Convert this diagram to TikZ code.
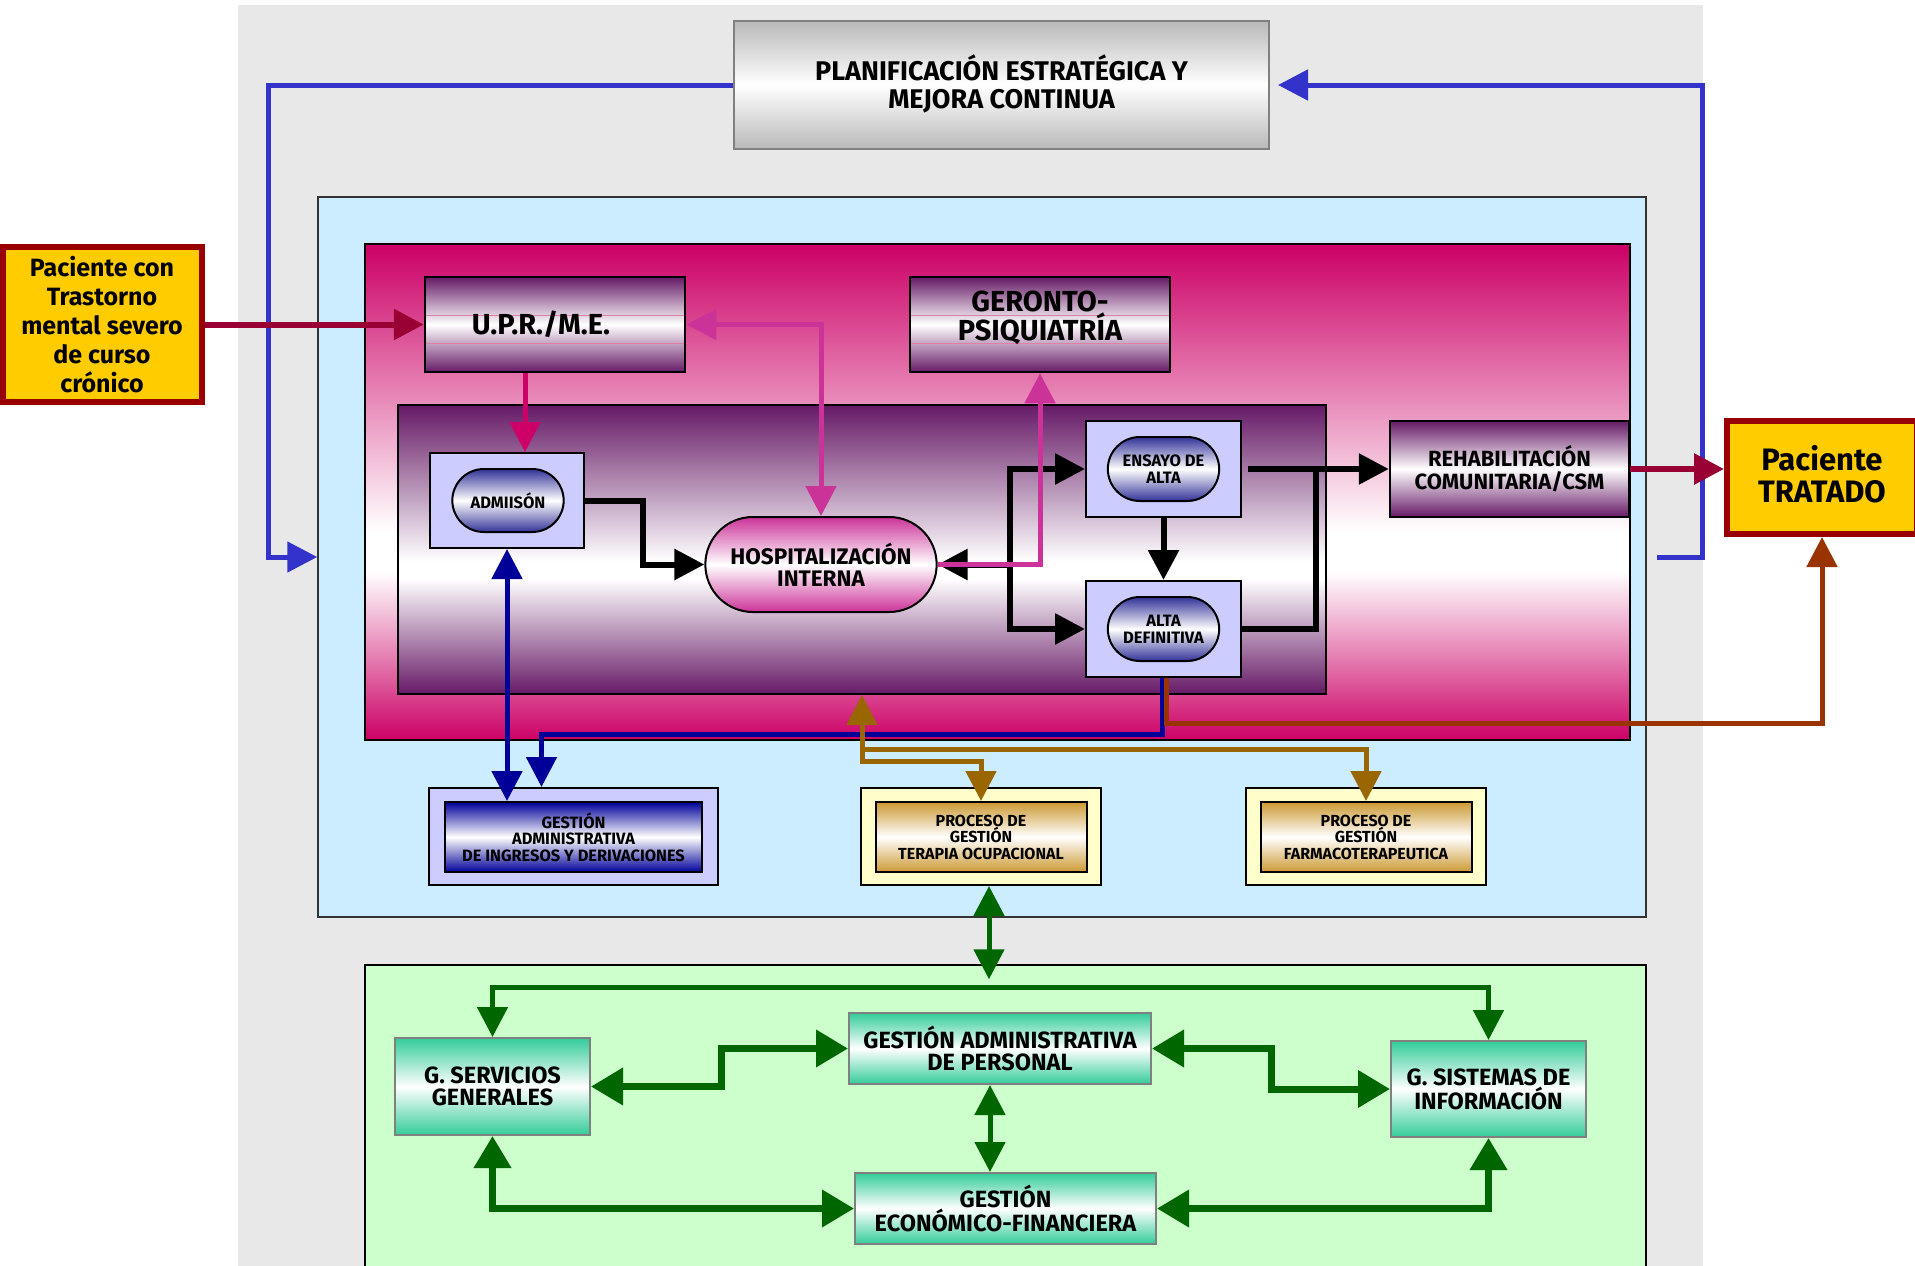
\documentclass[tikz,border=0pt]{standalone}
\usepackage{fontspec}
\setmainfont{Fira Sans}
\usetikzlibrary{arrows.meta,shapes.misc,calc}

\definecolor{fondogris}{HTML}{E8E8E8}
\definecolor{celeste}{HTML}{CCECFF}
\definecolor{carmin}{HTML}{CC0066}
\definecolor{purpura}{RGB}{102,26,102}
\definecolor{rosa}{HTML}{CC3399}
\definecolor{granate}{HTML}{990033}
\definecolor{teja}{HTML}{993300}
\definecolor{azul}{HTML}{3333CC}
\definecolor{marino}{HTML}{000099}
\definecolor{oro}{HTML}{996600}
\definecolor{verde}{HTML}{006600}
\definecolor{amarillo}{HTML}{FFCC00}
\definecolor{rojo}{HTML}{990000}
\definecolor{lila}{HTML}{CCCCFF}
\definecolor{azulpildora}{HTML}{333399}
\definecolor{dorado}{HTML}{CC9933}
\definecolor{crema}{HTML}{FFFFCC}
\definecolor{turquesa}{HTML}{33CC99}
\definecolor{menta}{HTML}{CCFFCC}
\definecolor{rosalinea}{HTML}{E07FA6}

\pgfdeclareverticalshading{fondocarmin}{100bp}{color(0bp)=(carmin); color(25bp)=(carmin); color(42bp)=(white); color(46bp)=(white); color(75bp)=(carmin); color(100bp)=(carmin)}
\pgfdeclareverticalshading{fondopurpura}{100bp}{color(0bp)=(purpura); color(25bp)=(purpura); color(45bp)=(white); color(48bp)=(white); color(75bp)=(purpura); color(100bp)=(purpura)}

\tikzset{
  caja/.style={draw, line width=2.5pt, inner sep=2pt, align=center},
  morada/.style={caja, top color=purpura, bottom color=purpura, middle color=white},
  rayas/.style={path picture={
    \foreach \f in {0.4,0.7}
      \draw[rosalinea, line width=1pt] ($(path picture bounding box.north west)!\f!(path picture bounding box.south west)$) -- ($(path picture bounding box.north east)!\f!(path picture bounding box.south east)$);}},
  marco/.style={draw, line width=2pt, fill=lila},
  pildora/.style={rounded rectangle, draw, line width=2pt, align=center, top color=azulpildora, bottom color=azulpildora, middle color=white, font=\bfseries\fontsize{16.5}{17}\selectfont},
  paciente/.style={draw=rojo, line width=6pt, fill=amarillo, align=center},
  verdecaja/.style={caja, draw=gray, line width=2pt, top color=turquesa, bottom color=turquesa, middle color=white, font=\bfseries\fontsize{23.5}{22}\selectfont},
  negra/.style={line width=6pt},
  flecha/.style={line width=5pt},
  gruesa/.style={line width=7pt, >={Triangle[length=32pt,width=36pt]}}
}

\begin{document}
\begin{tikzpicture}[x=1pt, y=-1pt, >={Triangle[length=30pt,width=30pt]}]
\useasboundingbox (0,0) rectangle (1915,1266);
\node[fill=fondogris, inner sep=0, minimum width=1465pt, minimum height=1270pt] (fondo) at (970.5,640) {};
\node[draw=black!80, line width=1.5pt, fill=celeste, minimum width=1328pt, minimum height=720pt] (asist) at (982,557) {};
\node[draw, line width=2pt, shade, shading=fondocarmin, minimum width=1265pt, minimum height=496pt] (hosparea) at (997.5,492) {};
\node[draw, line width=2pt, shade, shading=fondopurpura, minimum width=928pt, minimum height=289pt] (unidad) at (862,549.5) {};
\node[draw, line width=1.5pt, fill=menta, minimum width=1281pt, minimum height=320pt] (soporte) at (1005.5,1125) {};

\node[caja, draw=gray, line width=2pt, top color=gray!55, bottom color=gray!55, middle color=white, minimum width=535pt, minimum height=128pt, font=\bfseries\fontsize{27}{28}\selectfont] (planif) at (1001.5,85) {PLANIFICACIÓN ESTRATÉGICA Y\\MEJORA CONTINUA\vphantom{g}};
\draw[azul, flecha, ->] (planif.west) -- ++(-465,0) |- (asist.west);
\draw[azul, flecha, ->, shorten >=8pt] ($(asist.east)+(10,0)$) -- ++(46,0) |- (planif.east);

\node[paciente, minimum width=199pt, minimum height=155pt, font=\bfseries\fontsize{25}{29}\selectfont] (pacientecon) at (102,324.5) {Paciente con\\Trastorno\\mental severo\\de curso\\crónico};
\node[paciente, minimum width=190pt, minimum height=113pt, font=\bfseries\fontsize{31}{32}\selectfont] (tratado) at (1822,477.5) {Paciente\\TRATADO\vphantom{g}};

\node[morada, rayas, minimum width=260pt, minimum height=95pt, font=\bfseries\fontsize{29}{30}\selectfont] (upr) at (555,324.5) {\hspace*{-28pt}U.P.R./M.E.};
\node[morada, rayas, minimum width=260pt, minimum height=95pt, font=\bfseries\fontsize{29}{29}\selectfont] (geronto) at (1040,324.5) {GERONTO-\\PSIQUIATRÍA\\[-12pt]};
\node[morada, minimum width=239pt, minimum height=96pt, font=\bfseries\fontsize{22}{23}\selectfont] (rehab) at (1509.5,469) {REHABILITACIÓN\\COMUNITARIA/CSM};

\node[marco, minimum width=154pt, minimum height=95pt] (adm) at (507,500.5) {};
\node[pildora, minimum width=118pt, minimum height=63pt] (adm-i) at (508,500.5) {ADMIISÓN};
\foreach \n/\y/\t in {ensayo/469/{ENSAYO DE\\ALTA}, alta/629/{ALTA\\DEFINITIVA}} {
  \node[marco, minimum width=155pt, minimum height=96pt] (\n) at (1163.5,\y) {};
  \node[pildora, minimum width=118pt, minimum height=64pt] (\n-i) at (1163.5,\y) {\t};
}
\node[pildora, top color=rosa, bottom color=rosa, middle color=white, minimum width=238pt, minimum height=95pt, font=\bfseries\fontsize{22.5}{22}\selectfont] (hosp) at (821,564.5) {HOSPITALIZACIÓN\\INTERNA};

\node[marco, minimum width=289pt, minimum height=97pt] (ging) at (573.5,836.5) {};
\node[caja, line width=2pt, top color=marino, bottom color=marino, middle color=white, minimum width=257pt, minimum height=70pt, font=\bfseries\fontsize{16.4}{16.5}\selectfont] (ging-i) at (573.5,837) {GESTIÓN\\ADMINISTRATIVA\\DE INGRESOS Y DERIVACIONES};
\foreach \n/\x/\t in {ter/981/{PROCESO DE\\GESTIÓN\\TERAPIA OCUPACIONAL}, far/1366/{PROCESO DE\\GESTIÓN\\FARMACOTERAPEUTICA}} {
  \node[marco, fill=crema, minimum width=240pt, minimum height=97pt] (\n) at (\x,836.5) {};
  \node[caja, line width=2pt, top color=dorado, bottom color=dorado, middle color=white, minimum width=211pt, minimum height=70pt, font=\bfseries\fontsize{16}{16.5}\selectfont] (\n-i) at (\x,837) {\t};
}

\node[verdecaja, minimum width=195pt, minimum height=97pt] (serv) at (492.5,1086.5) {G. SERVICIOS\\GENERALES};
\node[verdecaja, minimum width=302pt, minimum height=71pt] (admp) at (1000,1048.5) {GESTIÓN ADMINISTRATIVA\\DE PERSONAL};
\node[verdecaja, minimum width=195pt, minimum height=96pt] (sist) at (1488.5,1089) {G. SISTEMAS DE\\INFORMACIÓN};
\node[verdecaja, minimum width=301pt, minimum height=71pt] (econ) at (1005.5,1208.5) {GESTIÓN\\ECONÓMICO-FINANCIERA};

\draw[granate, negra, ->] (pacientecon.east) -- (upr.west);
\draw[granate, negra, ->] (rehab.east) -- (rehab.east -| tratado.west);
\draw[carmin, flecha, ->] ($(upr.south)+(-30,0)$) -- ($(adm.north)+(18,0)$);
\draw[rosa, flecha, <->] (upr.east) -| (hosp.north);

\coordinate (reparto) at ($(hosp.east)+(72,0)$);
\draw[negra, ->] (reparto) -- (hosp.east);
\draw[negra, ->] (reparto) |- (ensayo.west);
\draw[negra, ->] (reparto) |- (alta.west);
\draw[negra, ->] (adm.east) -- ++(58,0) |- (hosp.west);
\draw[negra, ->] (ensayo.south) -- (alta.north);
\draw[negra, ->] ($(ensayo.east)+(6,0)$) -- (rehab.west);
\draw[negra] (alta.east) -| ($(ensayo.east)+(74,0)$);
\draw[rosa, flecha, ->] (hosp.east) -| (geronto.south);

\draw[marino, flecha, <->] (adm.south) -- (adm.south |- ging-i.north);
\draw[marino, flecha, ->] ($(alta.south)+(-1,0)$) -- ++(0,56) -| ($(ging.north)+(-32,0)$);
\draw[teja, flecha, ->] ($(alta.south)+(3,0)$) -- ++(0,45) -| (tratado.south);

\draw[oro, flecha, <->] (unidad.south) -- ++(0,66) -| (ter-i.north);
\draw[oro, flecha, ->] ($(unidad.south)+(0,54)$) -| (far-i.north);

\draw[verde, flecha, <->] ($(ter.south)+(8,0)$) -- ($(soporte.north -| ter.south)+(8,15)$);
\draw[verde, flecha, <->] (serv.north) -- ++(0,-50) -| (sist.north);
\draw[verde, gruesa, <->] (serv.east) -- ++(130,0) |- (admp.west);
\draw[verde, gruesa, <->] (admp.east) -- ++(119,0) |- (sist.west);
\draw[verde, flecha, <->] ($(admp.south)+(-10,0)$) -- ($(admp.south |- econ.north)+(-10,0)$);
\draw[verde, gruesa, <->] (serv.south) |- (econ.west);
\draw[verde, gruesa, <->] (sist.south) |- (econ.east);
\end{tikzpicture}
\end{document}
